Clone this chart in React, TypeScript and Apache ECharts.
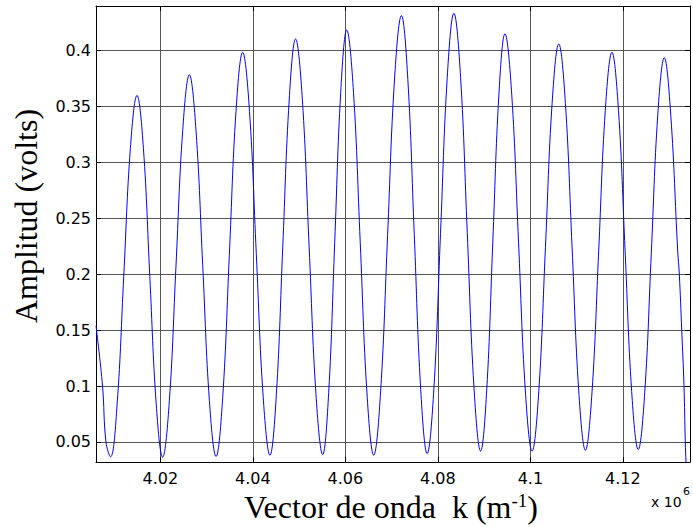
import React, { useEffect, useRef } from "react";
import * as echarts from "echarts";

// Wave number k (in units of 10^6 m^-1)
const kValues = [
  4.0061, 4.00751, 4.00825, 4.00924, 4.01067, 4.0121, 4.01353, 4.01496, 4.01635, 4.01773,
  4.01912, 4.0205, 4.02195, 4.02339, 4.02484, 4.02628, 4.02772, 4.02917, 4.03061, 4.03205,
  4.03349, 4.03493, 4.03636, 4.0378, 4.03928, 4.04075, 4.04223, 4.0437, 4.04509, 4.04647,
  4.04786, 4.04924, 4.05071, 4.05217, 4.05364, 4.0551, 4.0564, 4.0577, 4.059, 4.0603,
  4.06176, 4.06322, 4.06467, 4.06613, 4.06763, 4.06913, 4.07062, 4.07212, 4.07351, 4.0749,
  4.07629, 4.07768, 4.07913, 4.08057, 4.08202, 4.08346, 4.08491, 4.08635, 4.0878, 4.08924,
  4.09056, 4.09187, 4.09319, 4.0945, 4.09597, 4.09744, 4.0989, 4.10037, 4.10181, 4.10325,
  4.10469, 4.10613, 4.10757, 4.10901, 4.11045, 4.11189, 4.11332, 4.11476, 4.11619, 4.11762,
  4.11904, 4.12047, 4.12189, 4.12331, 4.12472, 4.12613, 4.12753, 4.12894, 4.13035, 4.13184,
  4.13219, 4.13271, 4.1332, 4.13348, 4.13364, 4.1338,
];

// Amplitude (volts)
const ampValues = [
  0.154, 0.1, 0.05, 0.0366, 0.084, 0.1983, 0.3126, 0.36, 0.3126, 0.1982,
  0.0837, 0.0363, 0.0864, 0.2074, 0.3284, 0.3785, 0.3285, 0.2077, 0.0869, 0.0369,
  0.0899, 0.2178, 0.3456, 0.3986, 0.3458, 0.2183, 0.0908, 0.038, 0.0926, 0.2243,
  0.3559, 0.4105, 0.356, 0.2246, 0.0931, 0.0386, 0.0943, 0.2286, 0.3628, 0.4185,
  0.3628, 0.2283, 0.0938, 0.038, 0.0956, 0.2347, 0.3738, 0.4314, 0.374, 0.2355,
  0.097, 0.0395, 0.0972, 0.2365, 0.3758, 0.4335, 0.3761, 0.2376, 0.0991, 0.0417,
  0.0964, 0.2285, 0.3605, 0.4152, 0.3605, 0.2285, 0.0964, 0.0417, 0.0951, 0.2239,
  0.3527, 0.406, 0.3528, 0.2243, 0.0957, 0.0425, 0.0947, 0.2206, 0.3465, 0.3986,
  0.3466, 0.2209, 0.0952, 0.0431, 0.0945, 0.2184, 0.3423, 0.3937, 0.342, 0.2207,
  0.2, 0.15, 0.1, 0.05, 0.032, 0.02,
];

const X_MIN = 4.0061;
const X_MAX = 4.1345;
const Y_MIN = 0.032;
const Y_MAX = 0.44;

const SANS = "DejaVu Sans";
const SERIF = "Liberation Serif";

export default function App() {
  const ref = useRef<HTMLDivElement>(null);

  useEffect(() => {
    document.body.style.margin = "0";
    if (!ref.current) return;
    const chart = echarts.init(ref.current, null, { renderer: "svg" });
    const data = kValues.map((k, i) => [k, ampValues[i]]);

    const baseX = {
      type: "value",
      min: X_MIN,
      max: X_MAX,
      splitNumber: 6,
    };
    const baseY = {
      type: "value",
      min: Y_MIN,
      max: Y_MAX,
      splitNumber: 8,
    };

    chart.setOption({
      animation: false,
      backgroundColor: "#ffffff",
      grid: { left: 96, right: 3, top: 6, bottom: 65, containLabel: false },
      xAxis: [
        {
          ...baseX,
          position: "bottom",
          axisLine: { show: true, onZero: false, lineStyle: { color: "#000", width: 1 } },
          axisTick: { show: true, inside: true, length: 5, lineStyle: { color: "#000" } },
          axisLabel: {
            show: true,
            margin: 8,
            color: "#000",
            fontFamily: SANS,
            fontSize: 16,
            showMinLabel: false,
            showMaxLabel: false,
          },
          splitLine: { show: true, lineStyle: { color: "#555", width: 1 } },
        },
        {
          ...baseX,
          position: "top",
          axisLine: { show: true, onZero: false, lineStyle: { color: "#000", width: 1 } },
          axisTick: { show: true, inside: true, length: 5, lineStyle: { color: "#000" } },
          axisLabel: { show: false },
          splitLine: { show: false },
        },
      ],
      yAxis: [
        {
          ...baseY,
          position: "left",
          axisLine: { show: true, onZero: false, lineStyle: { color: "#000", width: 1 } },
          axisTick: { show: true, inside: true, length: 5, lineStyle: { color: "#000" } },
          axisLabel: {
            show: true,
            margin: 5,
            color: "#000",
            fontFamily: SANS,
            fontSize: 16,
            showMinLabel: false,
            showMaxLabel: false,
          },
          splitLine: { show: true, lineStyle: { color: "#555", width: 1 } },
        },
        {
          ...baseY,
          position: "right",
          axisLine: { show: true, onZero: false, lineStyle: { color: "#000", width: 1 } },
          axisTick: { show: true, inside: true, length: 5, lineStyle: { color: "#000" } },
          axisLabel: { show: false },
          splitLine: { show: false },
        },
      ],
      series: [
        {
          type: "line",
          data,
          xAxisIndex: 0,
          yAxisIndex: 0,
          showSymbol: false,
          symbol: "none",
          smooth: 0.4,
          clip: true,
          lineStyle: { color: "#0000ff", width: 1 },
        },
      ],
      graphic: [
        {
          type: "text",
          x: 26,
          y: 216,
          rotation: Math.PI / 2,
          style: {
            text: "Amplitud (volts)",
            fontFamily: SERIF,
            fontSize: 32,
            fill: "#000",
            align: "center",
            verticalAlign: "middle",
          },
        },
        {
          type: "text",
          x: 391,
          y: 507,
          style: {
            text: "{a|Vector de onda  k (m}{b|-1}{a|)}",
            align: "center",
            verticalAlign: "middle",
            rich: {
              a: { fontFamily: SERIF, fontSize: 32, fill: "#000", color: "#000" },
              b: {
                fontFamily: SERIF,
                fontSize: 19,
                fill: "#000",
                color: "#000",
                padding: [0, 0, 14, 0],
              },
            },
          },
        },
        {
          type: "text",
          x: 651,
          y: 502,
          style: {
            text: "x 10",
            fontFamily: SANS,
            fontSize: 14,
            fill: "#000",
            align: "left",
            verticalAlign: "middle",
          },
        },
        {
          type: "text",
          x: 683,
          y: 491,
          style: {
            text: "6",
            fontFamily: SANS,
            fontSize: 11,
            fill: "#000",
            align: "left",
            verticalAlign: "middle",
          },
        },
      ],
    });

    return () => chart.dispose();
  }, []);

  return <div ref={ref} style={{ width: 693, height: 527 }} />;
}
